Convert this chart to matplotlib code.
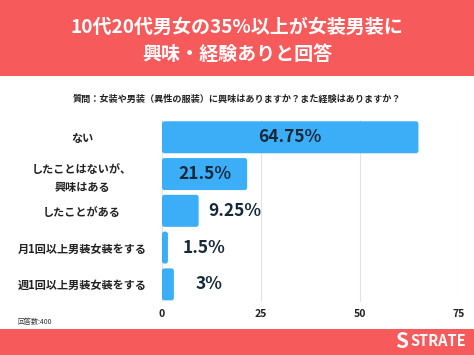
import matplotlib
matplotlib.use("Agg")
import matplotlib.pyplot as plt
from matplotlib.patches import Rectangle, FancyBboxPatch

plt.rcParams['font.family'] = ['Noto Sans CJK JP', 'DejaVu Sans']

# --- data ---
categories = ["ない", "したことはないが、\n興味はある", "したことがある",
              "月1回以上男装女装をする", "週1回以上男装女装をする"]
values = [64.75, 21.5, 9.25, 1.5, 3]
value_labels = ["64.75%", "21.5%", "9.25%", "1.5%", "3%"]
xticks = [0, 25, 50, 75]

title = "10代20代男女の35%以上が女装男装に\n興味・経験ありと回答"
question = "質問：女装や男装（異性の服装）に興味はありますか？また経験はありますか？"
note = "回答数:400"

RED = "#F65A5A"
BLUE = "#3BAEF7"
NAVY = "#16283A"

fig = plt.figure(figsize=(4.74, 3.55), dpi=100)
fig.patch.set_facecolor("white")

# top banner and bottom band
fig.add_artist(Rectangle((0, 1 - 76 / 355), 1, 76 / 355, transform=fig.transFigure,
                         facecolor=RED, edgecolor="none", zorder=0))
fig.add_artist(Rectangle((0, 0), 1, 26 / 355, transform=fig.transFigure,
                         facecolor=RED, edgecolor="none", zorder=0))
fig.text(0.5, 1 - 41 / 355, title, ha="center", va="center", color="white",
         fontsize=13.7, fontweight="bold", linespacing=1.55)
fig.text(0.5, 1 - 99 / 355, question, ha="center", va="center", color="#222222",
         fontsize=6.6, fontweight="bold")
fig.text(17 / 474, 1 - 322 / 355, note, ha="left", va="center", color="#333333",
         fontsize=5)
fig.text(466 / 474, 1 - 341 / 355, "STRATE", ha="right", va="center", color="white",
         fontsize=10.5, fontweight="bold")
fig.text(402 / 474, 1 - 341 / 355, "S", ha="center", va="center", color="white",
         fontsize=15, fontweight="bold", fontstyle="italic")

ax = fig.add_axes([162 / 474, 1 - 302 / 355, (459 - 162) / 474, 182 / 355])
ypos = list(range(len(categories)))
bar_h = 0.87
for y, v in zip(ypos, values):
    ax.add_patch(FancyBboxPatch((0, y - bar_h / 2), v, bar_h,
                                boxstyle="round,pad=0,rounding_size=0.6",
                                mutation_aspect=0.12,
                                facecolor=BLUE, edgecolor="none", zorder=3))

for y, v, lab in zip(ypos, values, value_labels):
    if v > 15:
        ax.text(v / 2, y, lab, ha="center", va="center", color=NAVY,
                fontsize=12.5, fontweight="bold", zorder=4)
    else:
        ax.text(v + 9, y, lab, ha="center", va="center", color=NAVY,
                fontsize=12.5, fontweight="bold", zorder=4)

ax.set_xlim(0, 75)
ax.set_ylim(4.48, -0.47)
ax.set_xticks(xticks)
ax.set_xticklabels([str(t) for t in xticks], fontsize=7.5, fontweight="bold",
                   color="#222222")
ax.set_yticks(ypos)
ax.set_yticklabels(categories, fontsize=8, fontweight="bold", color="#222222",
                   linespacing=1.5)
for lab in ax.get_yticklabels():
    lab.set_horizontalalignment("center")
ax.tick_params(axis="y", length=0, pad=57.6)
ax.tick_params(axis="x", length=0, pad=5)
ax.grid(axis="x", color="#e3e3e3", linewidth=0.8, zorder=0)
for s in ax.spines.values():
    s.set_visible(False)

fig.savefig("out.png", dpi=100)
